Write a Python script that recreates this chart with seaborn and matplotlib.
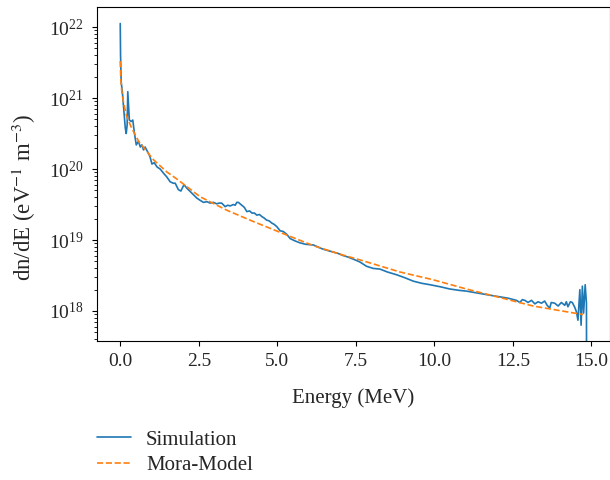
import numpy as np
import pandas as pd
import matplotlib
matplotlib.use("Agg")
import matplotlib.pyplot as plt
import seaborn as sns

# ================= DADOS (em log10) =================
sim_energy = [0.00, 0.01, 0.03, 0.07, 0.12, 0.16, 0.19, 0.22, 0.24, 0.27, 0.29,
              0.35, 0.40, 0.45, 0.51, 0.58, 0.64, 0.69, 0.74, 0.79, 0.85,
              0.90, 0.95, 1.01, 1.08, 1.17, 1.27, 1.38, 1.48, 1.59, 1.69,
              1.75, 1.85, 1.93, 2.03, 2.12, 2.28, 2.44, 2.54, 2.65, 2.76,
              2.86, 2.97, 3.07, 3.15, 3.23, 3.34, 3.42, 3.50, 3.60, 3.66,
              3.71, 3.76, 3.87, 3.95, 4.03, 4.12, 4.19, 4.27, 4.35, 4.43,
              4.51, 4.58, 4.66, 4.74, 4.82, 4.90, 4.98, 5.09, 5.19, 5.30,
              5.41, 5.55, 5.72, 5.90, 6.15, 6.30, 6.46, 6.70, 6.94, 7.10,
              7.25, 7.42, 7.63, 7.84, 8.05, 8.27, 8.50, 8.80, 9.05, 9.33,
              9.60, 9.86, 10.20, 10.49, 10.80, 11.02, 11.40, 11.80, 12.08,
              12.35, 12.61, 12.72, 12.80, 12.88, 12.98, 13.09, 13.20, 13.30,
              13.41, 13.51, 13.59, 13.67, 13.72, 13.83, 13.94, 14.04, 14.15,
              14.20, 14.25, 14.33, 14.39, 14.47, 14.52, 14.57, 14.63, 14.67,
              14.71, 14.75, 14.80, 14.84, 14.85]
sim_log10 = [22.05, 21.60, 21.23, 21.07, 20.80, 20.58, 20.50, 20.62, 21.09, 20.85, 20.69,
             20.67, 20.69, 20.51, 20.34, 20.39, 20.31, 20.34, 20.27, 20.31, 20.26,
             20.22, 20.17, 20.07, 20.09, 20.03, 20.00, 19.94, 19.89, 19.82, 19.80,
             19.80, 19.71, 19.69, 19.78, 19.73, 19.66, 19.59, 19.56, 19.53, 19.54,
             19.52, 19.53, 19.51, 19.52, 19.52, 19.47, 19.49, 19.48, 19.50, 19.49,
             19.53, 19.53, 19.49, 19.46, 19.40, 19.41, 19.38, 19.38, 19.35, 19.36,
             19.33, 19.31, 19.28, 19.27, 19.24, 19.22, 19.19, 19.13, 19.12, 19.08,
             19.02, 18.99, 18.96, 18.94, 18.93, 18.90, 18.87, 18.84, 18.81, 18.78,
             18.76, 18.73, 18.69, 18.63, 18.60, 18.59, 18.55, 18.51, 18.47, 18.42,
             18.39, 18.37, 18.34, 18.31, 18.29, 18.28, 18.25, 18.22, 18.20,
             18.18, 18.15, 18.12, 18.16, 18.15, 18.12, 18.15, 18.10, 18.13,
             18.11, 18.14, 18.08, 18.04, 18.12, 18.11, 18.07, 18.12, 18.08,
             18.13, 18.06, 18.13, 18.12, 18.05, 17.99, 17.87, 18.30, 17.80,
             18.35, 17.97, 18.37, 18.11, 16.00]

mora_energy = [0.00, 0.02, 0.05, 0.10, 0.20, 0.34, 0.48, 0.60, 0.75, 1.06, 1.48,
               1.80, 2.54, 3.39, 4.24, 5.30, 6.15, 7.00, 7.63, 8.90, 9.96,
               11.02, 12.08, 13.14, 14.20, 14.73]
mora_log10 = [21.52, 21.25, 21.10, 20.95, 20.75, 20.60, 20.48, 20.38, 20.30, 20.13, 19.96,
              19.86, 19.61, 19.42, 19.26, 19.07, 18.92, 18.80, 18.72, 18.55, 18.44,
              18.31, 18.19, 18.07, 17.99, 17.95]

# ================= ESTILO =================
sns.set_style("ticks")
plt.rcParams['font.family'] = ['Liberation Serif', 'DejaVu Serif']
plt.rcParams['mathtext.fontset'] = 'stix'

df_sim = pd.DataFrame({"E": sim_energy, "dn": np.power(10.0, sim_log10)})
df_mora = pd.DataFrame({"E": mora_energy, "dn": np.power(10.0, mora_log10)})

fig = plt.figure(figsize=(6.1, 4.8), dpi=100)
ax = fig.add_axes([0.159, 0.290, 0.841, 0.695])

sns.lineplot(data=df_sim, x="E", y="dn", ax=ax, color="#1f77b4", linewidth=1.2,
             sort=False, estimator=None, label="Simulation")
sns.lineplot(data=df_mora, x="E", y="dn", ax=ax, color="#ff7f0e", linewidth=1.2,
             linestyle="--", sort=False, estimator=None, label="Mora-Model")

ax.set_yscale("log")
ax.set_xlim(-0.74, 15.59)
ax.set_ylim(10 ** 17.58, 10 ** 22.28)
ax.set_xticks([0, 2.5, 5, 7.5, 10, 12.5, 15])
ax.set_xticklabels(["0.0", "2.5", "5.0", "7.5", "10.0", "12.5", "15.0"])
ax.set_xlabel("Energy (MeV)", fontsize=15, labelpad=13)
ax.set_ylabel("dn/dE (eV$^{-1}$ m$^{-3}$)", fontsize=16.5)
ax.yaxis.set_label_coords(-0.115, 0.43)
ax.tick_params(axis="both", which="major", length=3.8, width=0.8, labelsize=14, color="black")
ax.tick_params(axis="x", which="major", pad=5)
ax.tick_params(axis="y", which="major", pad=6)
ax.tick_params(axis="both", which="minor", length=2, width=0.6, color="black")
for s in ax.spines.values():
    s.set_color("black")
    s.set_linewidth(0.8)

handles, labels = ax.get_legend_handles_labels()
ax.legend_.remove()
fig.legend(handles, labels, loc="upper left", bbox_to_anchor=(0.159, 0.104),
           frameon=False, fontsize=15, handlelength=1.65, handletextpad=0.7,
           labelspacing=0.3, borderpad=0, borderaxespad=0)

fig.savefig("out.png", dpi=100)
